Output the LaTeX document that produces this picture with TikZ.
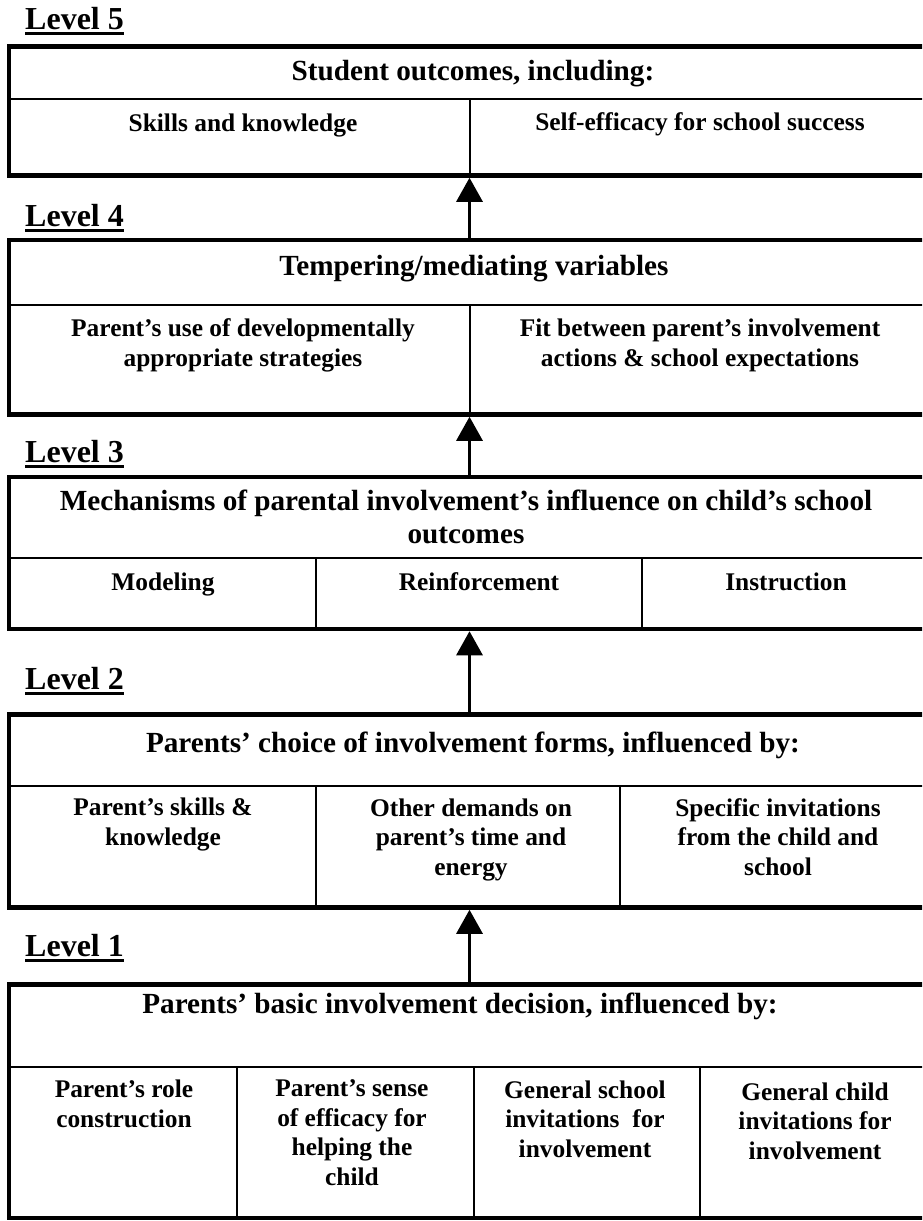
\documentclass[tikz,border=0pt]{standalone}
\usepackage{fontspec}
\setmainfont{Liberation Serif}
\usetikzlibrary{arrows.meta}

\begin{document}
\begin{tikzpicture}[
    x=1pt, y=-1pt,
    frame/.style={rectangle, draw, line width=4.5pt, minimum width=921pt, inner sep=0pt},
    rule/.style={line width=1.8pt},
    head/.style={anchor=base, align=center, inner sep=0pt, font=\fontsize{29.2}{33}\selectfont\bfseries},
    cell/.style={anchor=base, align=center, inner sep=0pt, font=\fontsize{25.4}{29.5}\selectfont\bfseries},
    lvl/.style={anchor=base west, inner sep=0pt, font=\fontsize{32}{36}\selectfont\bfseries},
    uline/.style={line width=2.8pt},
    arrow/.style={-{Triangle[length=24pt,width=26pt]}, line width=3pt}
]
    \useasboundingbox (0,0) rectangle (922,1221);
    \clip (0,0) rectangle (922,1221);

    \node[lvl] (l5) at (25,29) {Level 5};
    \node[frame, minimum height=129pt] (lv5) at (469.5,111) {};
    \node[head] (h5) at (473,80) {Student outcomes, including:};
    \node[cell] (skills) at (243,131) {Skills and knowledge};
    \node[cell] (selfeff) at (700,130) {Self-efficacy for school success};
    \draw[rule] (9,99) -- (930,99);
    \draw[rule] (470,99) -- (470,175.5);

    \node[lvl] (l4) at (25,226) {Level 4};
    \node[frame, minimum height=174.5pt] (lv4) at (469.5,327.25) {};
    \node[head] (h4) at (474,275) {Tempering/mediating variables};
    \node[cell] (devstrat) at (243,366) {Parent's use of developmentally\\appropriate strategies};
    \node[cell] (fit) at (700,366) {Fit between parent's involvement\\actions \& school expectations};
    \draw[rule] (9,305) -- (930,305);
    \draw[rule] (470,305) -- (470,414.5);

    \node[lvl] (l3) at (25,462) {Level 3};
    \node[frame, minimum height=152pt] (lv3) at (469.5,553) {};
    \node[head] (h3) at (466,543) {Mechanisms of parental involvement's influence on child's school\\outcomes};
    \node[cell] (model) at (163,590) {Modeling};
    \node[cell] (reinf) at (479,590) {Reinforcement};
    \node[cell] (instr) at (786,590) {Instruction};
    \draw[rule] (9,558) -- (930,558);
    \draw[rule] (316,558) -- (316,629);
    \draw[rule] (642,558) -- (642,629);

    \node[lvl] (l2) at (25,689) {Level 2};
    \node[frame, minimum height=193pt] (lv2) at (469.5,811) {};
    \node[head] (h2) at (473,752) {Parents' choice of involvement forms, influenced by:};
    \node[cell] (pskills) at (163,845) {Parent's skills \&\\knowledge};
    \node[cell] (demands) at (471,875) {Other demands on\\parent's time and\\energy};
    \node[cell] (specinv) at (778,875) {Specific invitations\\from the child and\\school};
    \draw[rule] (9,786) -- (930,786);
    \draw[rule] (316,786) -- (316,907.5);
    \draw[rule] (620,786) -- (620,907.5);

    \node[lvl] (l1) at (25,956) {Level 1};
    \node[frame, minimum height=233.5pt] (lv1) at (469.5,1101.25) {};
    \node[head] (h1) at (460,1013) {Parents' basic involvement decision, influenced by:};
    \node[cell] (role) at (124,1127) {Parent's role\\construction};
    \node[cell] (efficacy) at (352,1185) {Parent's sense\\of efficacy for\\helping the\\child};
    \node[cell] (schoolinv) at (585,1157) {General school\\invitations \ for\\involvement};
    \node[cell] (childinv) at (815,1159) {General child\\invitations for\\involvement};
    \draw[rule] (9,1067) -- (930,1067);
    \draw[rule] (237,1067) -- (237,1218);
    \draw[rule] (474,1067) -- (474,1218);
    \draw[rule] (700,1067) -- (700,1218);

    \foreach \l in {l1,l2,l3,l4,l5}
        \draw[uline] ([yshift=-4.5pt]\l.base west) -- ([yshift=-4.5pt]\l.base east);

    \draw[arrow] (lv4.north) -- (lv5.south);
    \draw[arrow] (lv3.north) -- (lv4.south);
    \draw[arrow] (lv2.north) -- (lv3.south);
    \draw[arrow] (lv1.north) -- (lv2.south);
\end{tikzpicture}
\end{document}
